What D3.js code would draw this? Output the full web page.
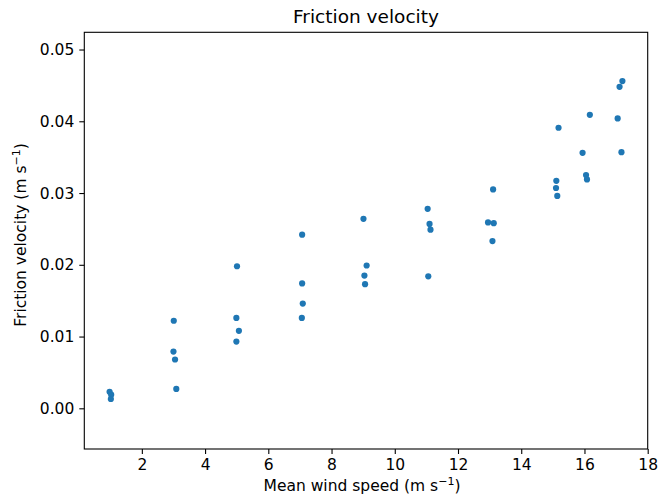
<!DOCTYPE html>
<html>
<head>
<meta charset="utf-8">
<script src="https://cdn.jsdelivr.net/npm/d3@7"></script>
<style>
  body { margin: 0; background: #fff; }
  svg { display: block; font-family: "DejaVu Sans", sans-serif; }
</style>
</head>
<body>
<svg id="chart" width="658" height="499"></svg>
<script>
// wind speed (m/s) of each run
const windSpeed = [
  0.98, 1.03, 1.02,
  3.01, 3.00, 3.05, 3.09,
  5.01, 4.99, 5.07, 4.99,
  7.07, 7.07, 7.09, 7.06,
  9.01, 9.11, 9.04, 9.06,
  11.04, 11.10, 11.13, 11.06,
  13.11, 12.95, 13.13, 13.09,
  15.18, 15.11, 15.10, 15.14,
  16.17, 15.94, 16.05, 16.08,
  17.20, 17.11, 17.05, 17.17
];
// friction velocity (m/s) of each run
const frictionVel = [
  0.0023, 0.0019, 0.0013,
  0.0122, 0.0079, 0.0068, 0.0027,
  0.0198, 0.0126, 0.0108, 0.0093,
  0.0242, 0.0174, 0.0146, 0.0126,
  0.0264, 0.0199, 0.0185, 0.0173,
  0.0278, 0.0257, 0.0249, 0.0184,
  0.0305, 0.0259, 0.0258, 0.0233,
  0.0391, 0.0317, 0.0307, 0.0296,
  0.0409, 0.0356, 0.0325, 0.0319,
  0.0456, 0.0448, 0.0404, 0.0357
];
const xTicks = [2, 4, 6, 8, 10, 12, 14, 16, 18];
const yTicks = [0.00, 0.01, 0.02, 0.03, 0.04, 0.05];

const svg = d3.select('#chart');
const m = { left: 84.3, right: 647.7, top: 32.3, bottom: 449 };

const x = d3.scaleLinear().domain([0.18, 18]).range([m.left, m.right]);
const y = d3.scaleLinear().domain([-0.00567, 0.0524]).range([m.bottom, m.top]);

const pts = windSpeed.map((w, i) => ({ w, u: frictionVel[i] }));

svg.append('g')
  .selectAll('circle')
  .data(pts)
  .join('circle')
  .attr('cx', d => x(d.w))
  .attr('cy', d => y(d.u))
  .attr('r', 3.1)
  .attr('fill', '#1f77b4');

// axes
const xAxis = svg.append('g')
  .attr('transform', `translate(0,${m.bottom})`)
  .call(d3.axisBottom(x).tickValues(xTicks).tickFormat(d3.format('d')).tickSize(5).tickPadding(5).tickSizeOuter(0));
const yAxis = svg.append('g')
  .attr('transform', `translate(${m.left},0)`)
  .call(d3.axisLeft(y).tickValues(yTicks).tickFormat(d3.format('.2f')).tickSize(5).tickPadding(5).tickSizeOuter(0));

[xAxis, yAxis].forEach(g => {
  g.select('.domain').remove();
  g.selectAll('line').attr('stroke', '#000').attr('stroke-width', 1.1);
  g.selectAll('text').attr('font-family', 'DejaVu Sans').attr('font-size', 15.5).attr('fill', '#000');
});

// frame
svg.append('rect')
  .attr('x', m.left).attr('y', m.top)
  .attr('width', m.right - m.left).attr('height', m.bottom - m.top)
  .attr('fill', 'none').attr('stroke', '#000').attr('stroke-width', 1.1);

// title
svg.append('text')
  .attr('x', (m.left + m.right) / 2).attr('y', 23)
  .attr('text-anchor', 'middle').attr('font-size', 18.5)
  .text('Friction velocity');

function unitLabel(sel, main) {
  sel.append('tspan').text(main + ' (m s');
  sel.append('tspan').attr('dy', -6).attr('font-size', 11).text('\u22121');
  sel.append('tspan').attr('dy', 6).text(')');
}

const xl = svg.append('text')
  .attr('x', 362).attr('y', 491)
  .attr('text-anchor', 'middle').attr('font-size', 15.5);
unitLabel(xl, 'Mean wind speed');

const yl = svg.append('text')
  .attr('transform', `translate(26,235) rotate(-90)`)
  .attr('text-anchor', 'middle').attr('font-size', 15.5);
unitLabel(yl, 'Friction velocity');
</script>
</body>
</html>
